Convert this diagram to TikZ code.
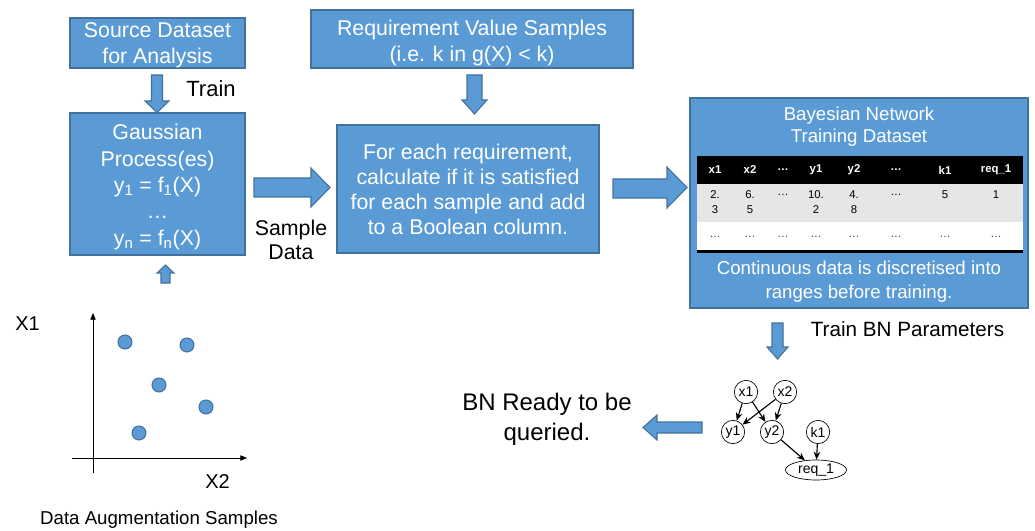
\documentclass[tikz,border=0pt]{standalone}
\usepackage{fontspec}
\setmainfont{Liberation Sans}
\usetikzlibrary{arrows.meta,shapes.geometric}
\definecolor{boxblue}{HTML}{5B9BD5}
\definecolor{boxedge}{HTML}{41719C}
\definecolor{rowgray}{HTML}{E6E6E6}
\begin{document}
\begin{tikzpicture}[x=0.75pt,y=-0.75pt,
  bluebox/.style={draw=boxedge, fill=boxblue, line width=0.9pt, text=white, align=center, inner sep=0pt},
  boxtext/.style={align=center, inner sep=0pt, text=white},
  blockarrow/.style={draw=boxedge, fill=boxblue, line width=0.8pt, line join=miter},
  lbl/.style={align=center, inner sep=0pt, text=black},
  cell/.style={inner sep=0pt, align=center, font=\fontsize{8.5}{11.25}\selectfont},
  hcell/.style={inner sep=0pt, text=white, font=\fontsize{8.5}{10}\selectfont\bfseries},
  bnnode/.style={draw, circle, minimum size=17.5pt, inner sep=0pt, font=\fontsize{10.5}{12}\selectfont, line width=0.5pt},
  bnedge/.style={-{Stealth[length=6pt,width=5pt]}, line width=0.85pt},
  axisline/.style={-{Triangle[length=5pt,width=4pt]}, line width=0.6pt},
  dot/.style={draw=boxedge, fill=boxblue, circle, minimum size=10.5pt, inner sep=0pt, line width=0.8pt}
]
\useasboundingbox (0,0) rectangle (1035,531);

% main boxes
\node[bluebox, minimum width=131.25pt, minimum height=37.5pt] (src) at (157.5,43) {};
\node[boxtext, font=\fontsize{16}{19.5}\selectfont] (srctxt) at (157.5,45.5) {Source Dataset\\for Analysis};
\node[bluebox, minimum width=131.25pt, minimum height=106.5pt] (gp) at (157.5,184) {};
\node[boxtext, font=\fontsize{16}{19.8}\selectfont] (gptxt) at (157.5,187) {Gaussian\\Process(es)\\y\textsubscript{1} = f\textsubscript{1}(X)\\…\\y\textsubscript{n} = f\textsubscript{n}(X)};
\node[bluebox, minimum width=241.5pt, minimum height=43.5pt] (req) at (472,39) {};
\node[boxtext, font=\fontsize{16}{19.5}\selectfont] (reqtxt) at (472,42.5) {Requirement Value Samples\\(i.e. k in g(X) < k)};
\node[bluebox, minimum width=196.5pt, minimum height=96pt, font=\fontsize{16}{18.75}\selectfont] (calc) at (468,189) {For each requirement,\\calculate if it is satisfied\\for each sample and add\\to a Boolean column.};
\node[bluebox, minimum width=253.5pt, minimum height=157.5pt] (bnbox) at (859,203) {};

% block arrows
\draw[blockarrow] (151.5,75)--(162.5,75)--(162.5,101)--(169,101)--(157,112.5)--(145,101)--(151.5,101)--cycle;
\draw[blockarrow] (165.5,265)--(174,273)--(170,273)--(170,283)--(161,283)--(161,273)--(157,273)--cycle;
\draw[blockarrow] (254,178)--(311,178)--(311,168)--(330,187.5)--(311,207)--(311,197)--(254,197)--cycle;
\draw[blockarrow] (467,75)--(482,75)--(482,100)--(487,100)--(474.5,114)--(462,100)--(467,100)--cycle;
\draw[blockarrow] (613,179)--(667,179)--(667,167)--(687,187.5)--(667,208)--(667,198)--(613,198)--cycle;
\draw[blockarrow] (772,323)--(783,323)--(783,347)--(788,347)--(777.5,359)--(767,347)--(772,347)--cycle;
\draw[blockarrow] (702,422)--(657,422)--(657,415)--(643,427.5)--(657,440)--(657,433)--(702,433)--cycle;

% labels
\node[lbl, font=\fontsize{16.5}{20}\selectfont] (trainlbl) at (211,89) {Train};
\node[lbl, font=\fontsize{16}{18}\selectfont] (samplelbl) at (291,240) {Sample\\Data};
\node[lbl, font=\fontsize{15.5}{18}\selectfont] (bnparam) at (907.5,329) {Train BN Parameters};
\node[lbl, font=\fontsize{18}{22.5}\selectfont] (ready) at (547,419) {BN Ready to be\\queried.};

% BN training dataset box contents
\node[boxtext, font=\fontsize{14}{16.5}\selectfont] (bntitle) at (859,126.5) {Bayesian Network\\Training Dataset};
\node[boxtext, font=\fontsize{14}{18}\selectfont] (bnnote) at (859,282) {Continuous data is discretised into\\ranges before training.};
\fill[black] (697,156) rectangle (1023,184);
\fill[rowgray] (697,184) rectangle (1023,222);
\fill[white] (697,222) rectangle (1023,250);
\fill[black] (697,250) rectangle (1023,252.5);
\foreach \x/\t [count=\i] in {715/x1,750/x2,783/…,816/y1,854/y2,896/…,945/k1,996/req\_1}{
  \node[hcell] (h\i) at (\x,170) {\t};
  \node[cell, text=black!75] (r\i) at (\x,237) {…};
}
\node[cell] (c1) at (715,202.5) {2.\\3};
\node[cell] (c2) at (750,202.5) {6.\\5};
\node[cell] (c3) at (783,195) {…};
\node[cell] (c4) at (816,202.5) {10.\\2};
\node[cell] (c5) at (854,202.5) {4.\\8};
\node[cell] (c6) at (896,195) {…};
\node[cell] (c7) at (945,195) {5};
\node[cell] (c8) at (996,195) {1};

% Bayesian network graph
\node[bnnode] (x1) at (746,392) {x1};
\node[bnnode] (x2) at (785,392) {x2};
\node[bnnode] (y1) at (733,432) {y1};
\node[bnnode] (y2) at (772,432) {y2};
\node[bnnode] (k1) at (818,432) {k1};
\node[draw, ellipse, minimum width=45.75pt, minimum height=15pt, inner sep=0pt, line width=0.5pt, font=\fontsize{10.5}{12}\selectfont] (req1) at (816,470) {req\_1};
\draw[bnedge] (x1) -- (y1);
\draw[bnedge] (x1) -- (y2);
\draw[bnedge] (x2) -- (y1);
\draw[bnedge] (x2) -- (y2);
\draw[bnedge] (y2) -- (req1);
\draw[bnedge] (k1) -- (req1);

% scatter plot
\coordinate (vb) at (93,473);
\coordinate (vt) at (93,313);
\coordinate (hl) at (72,458);
\coordinate (hr) at (247,458);
\draw[axisline] (vb) -- (vt);
\draw[axisline] (hl) -- (hr);
\node[dot] (p1) at (125,342) {};
\node[dot] (p2) at (187,345) {};
\node[dot] (p3) at (159,385) {};
\node[dot] (p4) at (206,407) {};
\node[dot] (p5) at (139,433) {};
\node[lbl, font=\fontsize{15}{18}\selectfont] (lx1) at (27.5,324) {X1};
\node[lbl, font=\fontsize{15}{18}\selectfont] (lx2) at (217.5,481.5) {X2};
\node[lbl, font=\fontsize{14}{17}\selectfont] (augl) at (159,520) {Data Augmentation Samples};
\end{tikzpicture}
\end{document}
